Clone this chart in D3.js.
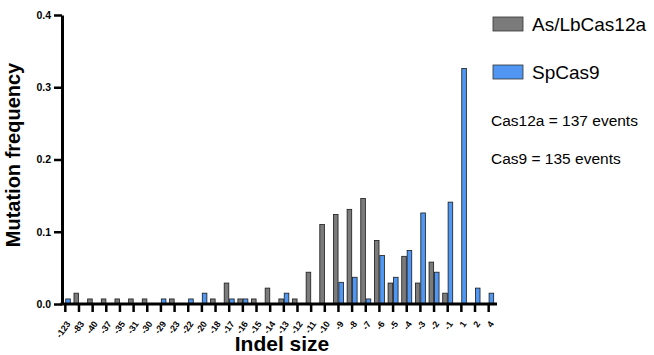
<!DOCTYPE html>
<html>
<head>
<meta charset="utf-8">
<script src="https://cdn.jsdelivr.net/npm/d3@7"></script>
<style>
  body { margin: 0; background: #fff; }
  text { font-family: "Liberation Sans", Arial, sans-serif; }
</style>
</head>
<body>
<script>
// indel sizes on the x axis
var categories = ["-123", "-83", "-40", "-37", "-35", "-31", "-30", "-29", "-23", "-22",
  "-20", "-18", "-17", "-16", "-15", "-14", "-13", "-12", "-11", "-10",
  "-9", "-8", "-7", "-6", "-5", "-4", "-3", "-2", "-1", "1", "2", "4"];

// mutation frequency, As/LbCas12a (gray)
var cas12a = [0, 0.015, 0.007, 0.007, 0.007, 0.007, 0.007, 0, 0.007, 0,
  0, 0.007, 0.029, 0.007, 0.007, 0.022, 0.007, 0.007, 0.044, 0.110,
  0.124, 0.131, 0.146, 0.088, 0.029, 0.066, 0.029, 0.058, 0.015, 0, 0, 0];

// mutation frequency, SpCas9 (blue)
var cas9 = [0.007, 0, 0, 0, 0, 0, 0, 0.007, 0, 0.007,
  0.015, 0, 0.007, 0.007, 0, 0, 0.015, 0, 0, 0,
  0.030, 0.037, 0.007, 0.067, 0.037, 0.074, 0.126, 0.044, 0.141, 0.326, 0.022, 0.015];

var series = ["As/LbCas12a", "SpCas9"];
var colors = ["#7b7b7b", "#4f97f2"];
var yTicks = [0, 0.1, 0.2, 0.3, 0.4];
var notes = ["Cas12a = 137 events", "Cas9 = 135 events"];

var svg = d3.select("body").append("svg")
    .attr("width", 654)
    .attr("height", 355);

var x = d3.scaleBand()
    .domain(categories)
    .range([58.5, 495.5]);

var xSub = d3.scaleBand()
    .domain(series)
    .range([x.step() / 2 - 5, x.step() / 2 + 5])
    .paddingInner(0.15);

var y = d3.scaleLinear()
    .domain([0, 0.4])
    .range([304, 15]);

// bars
var rows = categories.map(function(c, i) {
  return { cat: c, vals: [cas12a[i], cas9[i]] };
});

var groups = svg.append("g").selectAll("g")
    .data(rows)
  .enter().append("g")
    .attr("transform", function(d) { return "translate(" + x(d.cat) + ",0)"; });

groups.selectAll("rect")
    .data(function(d) {
      return d.vals.map(function(v, j) { return { s: series[j], v: v, j: j }; })
        .filter(function(e) { return e.v > 0; });
    })
  .enter().append("rect")
    .attr("x", function(d) { return xSub(d.s); })
    .attr("y", function(d) { return y(d.v); })
    .attr("width", xSub.bandwidth())
    .attr("height", function(d) { return y(0) - y(d.v); })
    .attr("fill", function(d) { return colors[d.j]; })
    .attr("stroke", "#1a1a1a")
    .attr("stroke-width", 0.8);

// y axis
var yAxis = svg.append("g")
    .attr("transform", "translate(62,0)")
    .call(d3.axisLeft(y).tickValues(yTicks).tickFormat(d3.format(".1f")).tickSize(8).tickSizeOuter(0));
yAxis.select(".domain").attr("stroke-width", 3).attr("stroke", "#000");
yAxis.selectAll(".tick line").attr("stroke-width", 2.5).attr("stroke", "#000");
yAxis.selectAll(".tick text")
    .attr("x", -11)
    .style("font-size", "10.5px")
    .style("font-weight", "bold")
    .attr("fill", "#000");

// x axis
var xAxis = svg.append("g")
    .attr("transform", "translate(0,304)")
    .call(d3.axisBottom(x).tickSize(8).tickSizeOuter(0));
xAxis.select(".domain").attr("d", "M60.5,0H497").attr("stroke-width", 3).attr("stroke", "#000");
xAxis.selectAll(".tick line").attr("stroke-width", 2.5).attr("stroke", "#000");
xAxis.selectAll(".tick text")
    .attr("transform", "translate(3,18) rotate(-55)")
    .attr("x", 0)
    .attr("y", 0)
    .attr("dy", "0.35em")
    .style("text-anchor", "end")
    .style("font-size", "9px")
    .style("font-weight", "bold")
    .attr("fill", "#000");

// axis titles
svg.append("text")
    .attr("transform", "translate(20,155) rotate(-90)")
    .attr("text-anchor", "middle")
    .style("font-size", "20px")
    .style("font-weight", "bold")
    .text("Mutation frequency");

svg.append("text")
    .attr("x", 282)
    .attr("y", 351)
    .attr("text-anchor", "middle")
    .style("font-size", "21px")
    .style("font-weight", "bold")
    .text("Indel size");

// legend
var legend = svg.append("g");
series.forEach(function(s, i) {
  legend.append("rect")
    .attr("x", 493)
    .attr("y", 17 + i * 48)
    .attr("width", 30)
    .attr("height", 14)
    .attr("fill", colors[i])
    .attr("stroke", "#333")
    .attr("stroke-width", 0.8);
  legend.append("text")
    .attr("x", 532)
    .attr("y", 31 + i * 48)
    .style("font-size", "19px")
    .text(s);
});

notes.forEach(function(n, i) {
  svg.append("text")
    .attr("x", 491)
    .attr("y", 126 + i * 38)
    .style("font-size", "15.5px")
    .text(n);
});
</script>
</body>
</html>
